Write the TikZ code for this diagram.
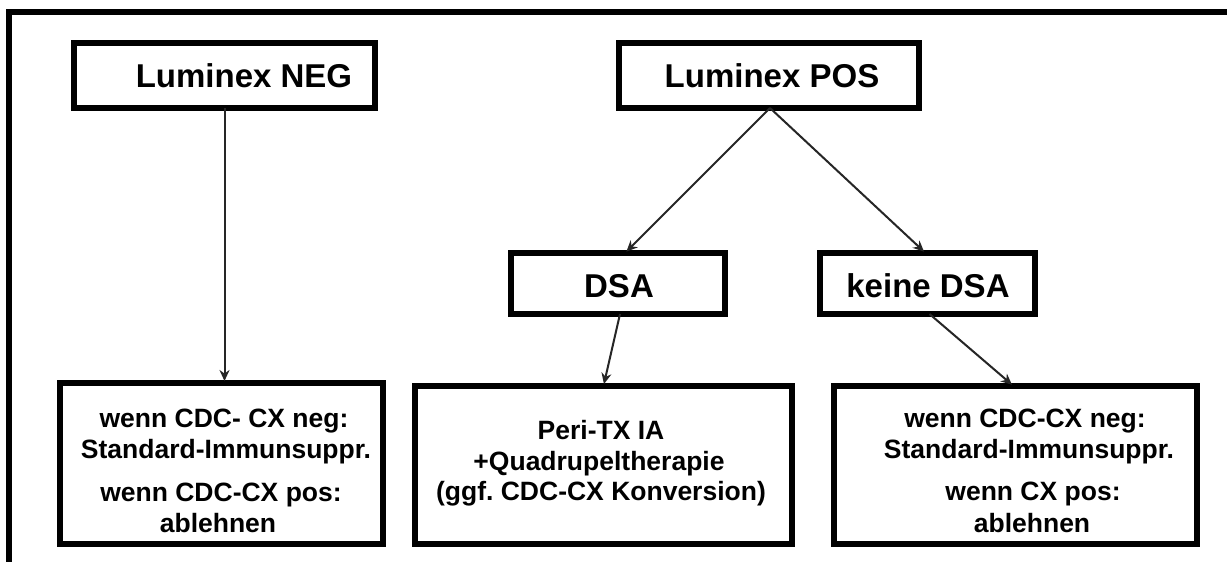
\documentclass[tikz,border=0pt]{standalone}
\usepackage{fontspec}
\setmainfont{Liberation Sans}
\usetikzlibrary{arrows.meta,calc}
\frenchspacing
\tikzset{
  box/.style={draw=black, line width=6pt, rectangle, inner sep=0pt, outer sep=0pt, fill=white},
  ttl/.style={anchor=base, inner sep=0pt, font=\fontsize{33}{40}\selectfont\bfseries},
  txt/.style={anchor=base, inner sep=0pt, font=\fontsize{26.5}{31}\selectfont\bfseries},
  conn/.style={draw=black!85, line width=2pt, -{Stealth[length=11pt,width=10pt]}, shorten >=2pt},
}
\begin{document}
\begin{tikzpicture}[x=1pt,y=-1pt]
\useasboundingbox (0,0) rectangle (1227,562);
\fill[white] (0,0) rectangle (1227,562);
% outer frame (top and left edges)
\draw[line width=6pt, line join=miter] (9,575) -- (9,12) -- (1240,12);

% boxes
\node[box, minimum width=301pt, minimum height=65pt] (neg) at (224.5,75.5) {};
\node[box, minimum width=300pt, minimum height=65pt] (pos) at (769,75.5) {};
\node[box, minimum width=214pt, minimum height=61pt] (dsa) at (618,283.5) {};
\node[box, minimum width=215pt, minimum height=61pt] (kdsa) at (927.5,283.5) {};
\node[box, minimum width=323pt, minimum height=161pt] (b1) at (221.5,463.5) {};
\node[box, minimum width=377pt, minimum height=158pt] (b2) at (603.5,465) {};
\node[box, minimum width=363pt, minimum height=158pt] (b3) at (1015.5,465) {};

% titles
\node[ttl] (tneg) at (244,87) {Luminex NEG};
\node[ttl] (tpos) at (772,87) {Luminex POS};
\node[ttl] (tdsa) at (619,297) {DSA};
\node[ttl] (tkdsa) at (928,297) {keine DSA};

% box 1 text
\node[txt] (b1a) at (224,427) {wenn CDC- CX neg:};
\node[txt] (b1b) at (226,458) {Standard-Immunsuppr.};
\node[txt] (b1c) at (221,501) {wenn CDC-CX pos:};
\node[txt] (b1d) at (218,532) {ablehnen};

% box 2 text
\node[txt] (b2a) at (601,439) {Peri-TX IA};
\node[txt] (b2b) at (599,470) {+Quadrupeltherapie};
\node[txt] (b2c) at (601,500) {(ggf. CDC-CX Konversion)};

% box 3 text
\node[txt] (b3a) at (1025,427) {wenn CDC-CX neg:};
\node[txt] (b3b) at (1029,458) {Standard-Immunsuppr.};
\node[txt] (b3c) at (1033,500) {wenn CX pos:};
\node[txt] (b3d) at (1032,532) {ablehnen};

% connectors
\draw[conn] (neg.south) -- (neg.south |- b1.north);
\draw[conn] ([xshift=1pt]pos.south) -- ([xshift=7pt]dsa.north);
\draw[conn] ([xshift=1pt]pos.south) -- ([xshift=-2pt]kdsa.north);
\draw[conn] ([xshift=2pt]dsa.south) -- (b2.north);
\draw[conn] ([xshift=2pt]kdsa.south) -- ([xshift=-2pt]b3.north);
\end{tikzpicture}
\end{document}
